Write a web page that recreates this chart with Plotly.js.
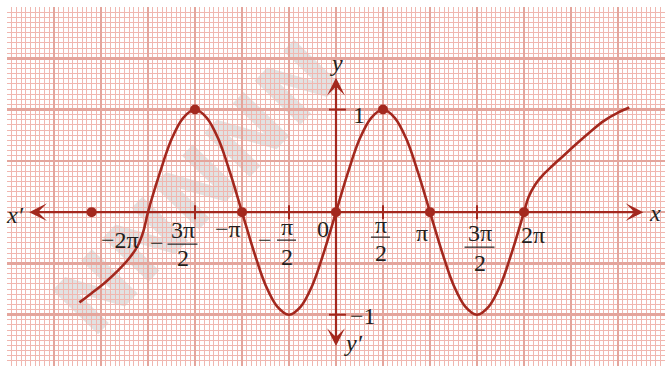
<!DOCTYPE html>
<html>
<head>
<meta charset="utf-8">
<script src="https://cdn.plot.ly/plotly-3.0.1.min.js"></script>
<style>
  html, body { margin: 0; padding: 0; background: #ffffff; }
  #chart { width: 665px; height: 366px; }
</style>
</head>
<body>
<div id="chart"></div>
<script>
// Curve samples; x is given in multiples of π
const curveX = [-2.73, -2.6, -2.45, -2.32, -2.2, -2.11, -2.05,
  -2, -1.875, -1.75, -1.625, -1.5, -1.375, -1.25, -1.125,
  -1, -0.875, -0.75, -0.625, -0.5, -0.375, -0.25, -0.125,
  0, 0.125, 0.25, 0.375, 0.5, 0.625, 0.75, 0.875,
  1, 1.125, 1.25, 1.375, 1.5, 1.625, 1.75, 1.875, 2,
  2.05, 2.12, 2.2, 2.3, 2.42, 2.55, 2.7, 2.85, 3.0, 3.12];
const curveY = [-0.88, -0.79, -0.68, -0.57, -0.45, -0.33, -0.19,
  0, 0.38, 0.71, 0.92, 1, 0.92, 0.71, 0.38,
  0, -0.38, -0.71, -0.92, -1, -0.92, -0.71, -0.38,
  0, 0.38, 0.71, 0.92, 1, 0.92, 0.71, 0.38,
  0, -0.38, -0.71, -0.92, -1, -0.92, -0.71, -0.38, 0,
  0.15, 0.27, 0.36, 0.45, 0.55, 0.66, 0.78, 0.89, 0.97, 1.02];

// Marked points on the curve
const dotX = [-2.6, -1.5, -1, 0, 0.5, 1, 2];
const dotY = [0, 1, 0, 0, 1, 0, 0];

// Tick marks on the axes
const xTickVals = [-1.5, -0.5, 0.5, 1.5];
const yTickVals = [1, -1];

// Labels along the x axis (value, numerator, denominator, leading sign)
const xLabelVals = [-2, -1.5, -1, -0.5, 0, 0.5, 1, 1.5, 2];
const xLabelNum  = ['−2π', '3π', '−π', 'π', '0', 'π', 'π', '3π', '2π'];
const xLabelDen  = ['', '2', '', '2', '', '2', '', '2', ''];
const xLabelSign = ['', '−', '', '−', '', '', '', '', ''];

// Labels along the y axis
const yLabelVals = [1, -1];
const yLabelText = ['1', '−1'];

// ---- layout geometry ----
const W = 665, H = 366;
const M = { l: 7, r: 0, t: 7, b: 0 };
const xRange = [-3.5, 3.5];
const yRange = [-1.5, 2];
const pxX = (W - M.l - M.r) / (xRange[1] - xRange[0]);
const pxY = (H - M.t - M.b) / (yRange[1] - yRange[0]);

const RED = '#a3281e';
const INK = '#231f20';
const SERIF = 'Liberation Serif, Times New Roman, serif';
const FS = 24;

// label placement in pixels: dx right, dy down from (value, 0)
const xLabelPos = [
  { dx: -28.5, dy: 28 },
  { dx: -12.5, dy: 18, bar: 32, den: 46, half: 15, sdx: -38.5, sdy: 31 },
  { dx: -14.5, dy: 17 },
  { dx: -2.5, dy: 15, bar: 28, den: 45, half: 9.5, sdx: -24.5, sdy: 28 },
  { dx: -13.5, dy: 17 },
  { dx: -2.5, dy: 13, bar: 25, den: 41, half: 9.5 },
  { dx: -8.5, dy: 21 },
  { dx: 2.5, dy: 21, bar: 35, den: 51, half: 15 },
  { dx: 8.5, dy: 23 }
];
const yLabelPos = [ { dx: 23, dy: 5 }, { dx: 27, dy: 1 } ];

const annotations = [];
const shapes = [];

// faint watermark band running up to the right, between grid and traces
const wmCx = 193, wmCy = 184, wmHalf = 40;
const dirX = Math.cos(46 * Math.PI / 180), dirY = Math.sin(46 * Math.PI / 180);
const toPaperX = px => (px - M.l) / (W - M.l - M.r);
const toPaperY = py => (H - M.b - py) / (H - M.t - M.b);
shapes.push({
  type: 'line', xref: 'paper', yref: 'paper', layer: 'between',
  x0: toPaperX(wmCx - wmHalf * dirX), y0: toPaperY(wmCy + wmHalf * dirY),
  x1: toPaperX(wmCx + wmHalf * dirX), y1: toPaperY(wmCy - wmHalf * dirY),
  line: { width: 0, color: 'rgba(0,0,0,0)' },
  label: {
    text: 'NNNNN', textangle: -46, textposition: 'middle', yanchor: 'middle', xanchor: 'center',
    font: { family: 'DejaVu Sans', size: 87, color: 'rgba(120,120,120,0.21)', weight: 'bold' }
  }
});

// x axis and y axis with arrowheads at both ends
annotations.push({
  x: 3.27, y: 0, ax: -3.28, ay: 0, xref: 'x', yref: 'y', axref: 'x', ayref: 'y',
  text: '', showarrow: true, arrowside: 'end+start', arrowhead: 3, startarrowhead: 3,
  arrowwidth: 2.2, arrowsize: 1.35, startarrowsize: 1.35, arrowcolor: RED
});
annotations.push({
  x: 0, y: 1.31, ax: 0, ay: -1.32, xref: 'x', yref: 'y', axref: 'x', ayref: 'y',
  text: '', showarrow: true, arrowside: 'end+start', arrowhead: 3, startarrowhead: 3,
  arrowwidth: 2.2, arrowsize: 1.35, startarrowsize: 1.35, arrowcolor: RED
});

// small tick marks
xTickVals.forEach(v => shapes.push({
  type: 'line', xref: 'x', yref: 'y', x0: v, x1: v, y0: -7 / pxY, y1: 7 / pxY,
  line: { color: RED, width: 2 }
}));
yTickVals.forEach(v => shapes.push({
  type: 'line', xref: 'x', yref: 'y', y0: v, y1: v, x0: -7 / pxX, x1: 10 / pxX,
  line: { color: RED, width: 2 }
}));

function txt(x, y, text, dx, dy, italic) {
  annotations.push({
    x: x, y: y, xref: 'x', yref: 'y', text: text, showarrow: false,
    xanchor: 'center', yanchor: 'middle', xshift: dx, yshift: -dy,
    font: { family: SERIF, size: FS, color: INK, style: italic ? 'italic' : 'normal' }
  });
}

// x axis labels, with fraction bars where needed
xLabelVals.forEach((v, i) => {
  const p = xLabelPos[i];
  txt(v, 0, xLabelNum[i], p.dx, p.dy, false);
  if (xLabelDen[i]) {
    txt(v, 0, xLabelDen[i], p.dx, p.den, false);
    shapes.push({
      type: 'line', xref: 'x', yref: 'y',
      x0: v + (p.dx - p.half) / pxX, x1: v + (p.dx + p.half) / pxX,
      y0: -p.bar / pxY, y1: -p.bar / pxY,
      line: { color: INK, width: 1.2 }
    });
  }
  if (xLabelSign[i]) txt(v, 0, xLabelSign[i], p.sdx, p.sdy, false);
});

// y axis labels
yLabelVals.forEach((v, i) => txt(0, v, yLabelText[i], yLabelPos[i].dx, yLabelPos[i].dy, false));

// axis names
txt(xRange[0], 0, 'x′', 8, 3, true);
txt(xRange[1], 0, 'x', -10, 1, true);
txt(0, yRange[1], 'y', 0, 56, true);
txt(0, yRange[0], 'y′', 17, -23, true);

const traces = [
  {
    x: curveX, y: curveY, type: 'scatter', mode: 'lines',
    line: { color: RED, width: 2.6, shape: 'spline', smoothing: 1 },
    hoverinfo: 'skip'
  },
  {
    x: dotX, y: dotY, type: 'scatter', mode: 'markers',
    marker: { color: RED, size: 10 },
    hoverinfo: 'skip'
  }
];

const gridAxis = range => ({
  range: range, dtick: 0.5, tick0: 0, showgrid: true, gridcolor: '#e4a59c', gridwidth: 2.5,
  minor: { dtick: 0.05, tick0: 0, showgrid: true, gridcolor: '#f0b7b0', gridwidth: 1 },
  showticklabels: false, ticks: '', zeroline: false, showline: false, fixedrange: true
});

const layout = {
  width: W, height: H,
  margin: M,
  paper_bgcolor: '#ffffff', plot_bgcolor: '#ffffff',
  showlegend: false,
  xaxis: gridAxis(xRange),
  yaxis: gridAxis(yRange),
  shapes: shapes,
  annotations: annotations
};

Plotly.newPlot('chart', traces, layout, { displayModeBar: false, staticPlot: true });
</script>
</body>
</html>
